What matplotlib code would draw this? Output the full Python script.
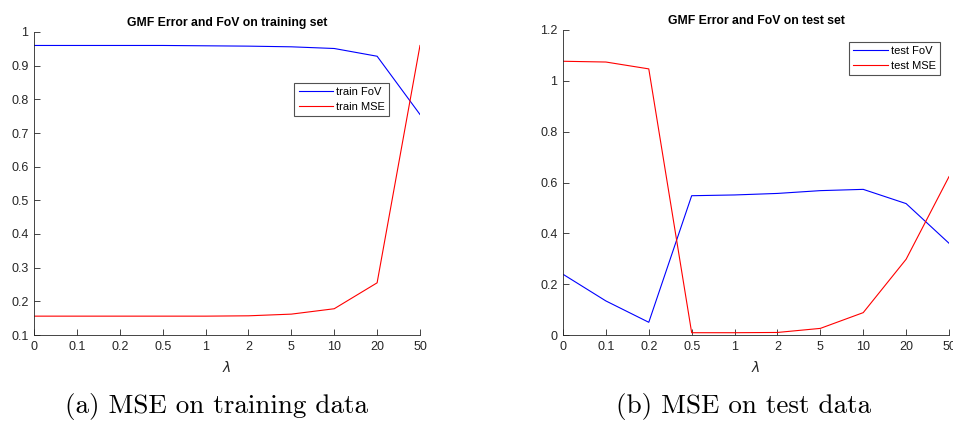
import matplotlib
matplotlib.use('Agg')
import matplotlib.pyplot as plt
import numpy as np

lambdas = ['0', '0.1', '0.2', '0.5', '1', '2', '5', '10', '20', '50']

train_fov = [0.960, 0.960, 0.960, 0.960, 0.959, 0.958, 0.956, 0.951, 0.928, 0.755]
train_mse = [0.156, 0.156, 0.156, 0.156, 0.156, 0.157, 0.162, 0.178, 0.255, 0.960]

test_fov = [0.239, 0.134, 0.050, 0.548, 0.551, 0.557, 0.568, 0.573, 0.517, 0.361]
test_mse = [1.077, 1.074, 1.047, 0.009, 0.009, 0.010, 0.026, 0.088, 0.298, 0.623]

GRAY = '#262626'
plt.rcParams['font.family'] = ['Liberation Sans', 'DejaVu Sans']


def style_axes(ax, title, yticks, ylim):
    x = np.arange(len(lambdas))
    ax.set_xlim(0, len(lambdas) - 1)
    ax.set_ylim(*ylim)
    ax.set_xticks(x)
    ax.set_xticklabels(lambdas)
    ax.set_yticks(yticks)
    ax.set_yticklabels([f'{t:g}' for t in yticks])
    ax.tick_params(direction='in', length=4, width=0.6, labelsize=9,
                   colors=GRAY, pad=4)
    for s in ['top', 'right']:
        ax.spines[s].set_visible(False)
    for s in ['left', 'bottom']:
        ax.spines[s].set_color(GRAY)
        ax.spines[s].set_linewidth(0.6)
    ax.set_xlabel(r'$\lambda$', fontsize=10, color=GRAY, labelpad=5)
    ax.set_title(title, fontsize=8.8, fontweight='bold', pad=4.5)


def add_legend(ax, anchor):
    leg = ax.legend(loc='upper left', bbox_to_anchor=anchor, fontsize=8,
                    frameon=True, fancybox=False, edgecolor=GRAY,
                    handlelength=3.1, handletextpad=0.27, borderpad=0.4,
                    labelspacing=0.4, borderaxespad=0)
    leg.get_frame().set_linewidth(0.8)


fig = plt.figure(figsize=(9.54, 4.21), dpi=100)
x = np.arange(len(lambdas))

ax1 = fig.add_axes([34 / 954, 1 - 335 / 421, 386 / 954, 303 / 421])
ax1.plot(x, train_fov, color='blue', lw=0.8, label='train FoV')
ax1.plot(x, train_mse, color='red', lw=0.8, label='train MSE')
style_axes(ax1, 'GMF Error and FoV on training set',
           np.arange(0.1, 1.01, 0.1).round(1), (0.1, 1.0))
add_legend(ax1, (0.674, 0.832))

ax2 = fig.add_axes([563 / 954, 1 - 335 / 421, 386 / 954, 305 / 421])
ax2.plot(x, test_fov, color='blue', lw=0.8, label='test FoV')
ax2.plot(x, test_mse, color='red', lw=0.8, label='test MSE')
style_axes(ax2, 'GMF Error and FoV on test set',
           np.arange(0, 1.21, 0.2).round(1), (0, 1.2))
add_legend(ax2, (0.741, 0.961))

fig.text(217 / 954, 1 - 406 / 421, '(a) MSE on training data', fontsize=19.5,
         family='cmr10', ha='center', va='center')
fig.text(744 / 954, 1 - 406 / 421, '(b) MSE on test data', fontsize=19.5,
         family='cmr10', ha='center', va='center')

fig.savefig('out.png', dpi=100)
